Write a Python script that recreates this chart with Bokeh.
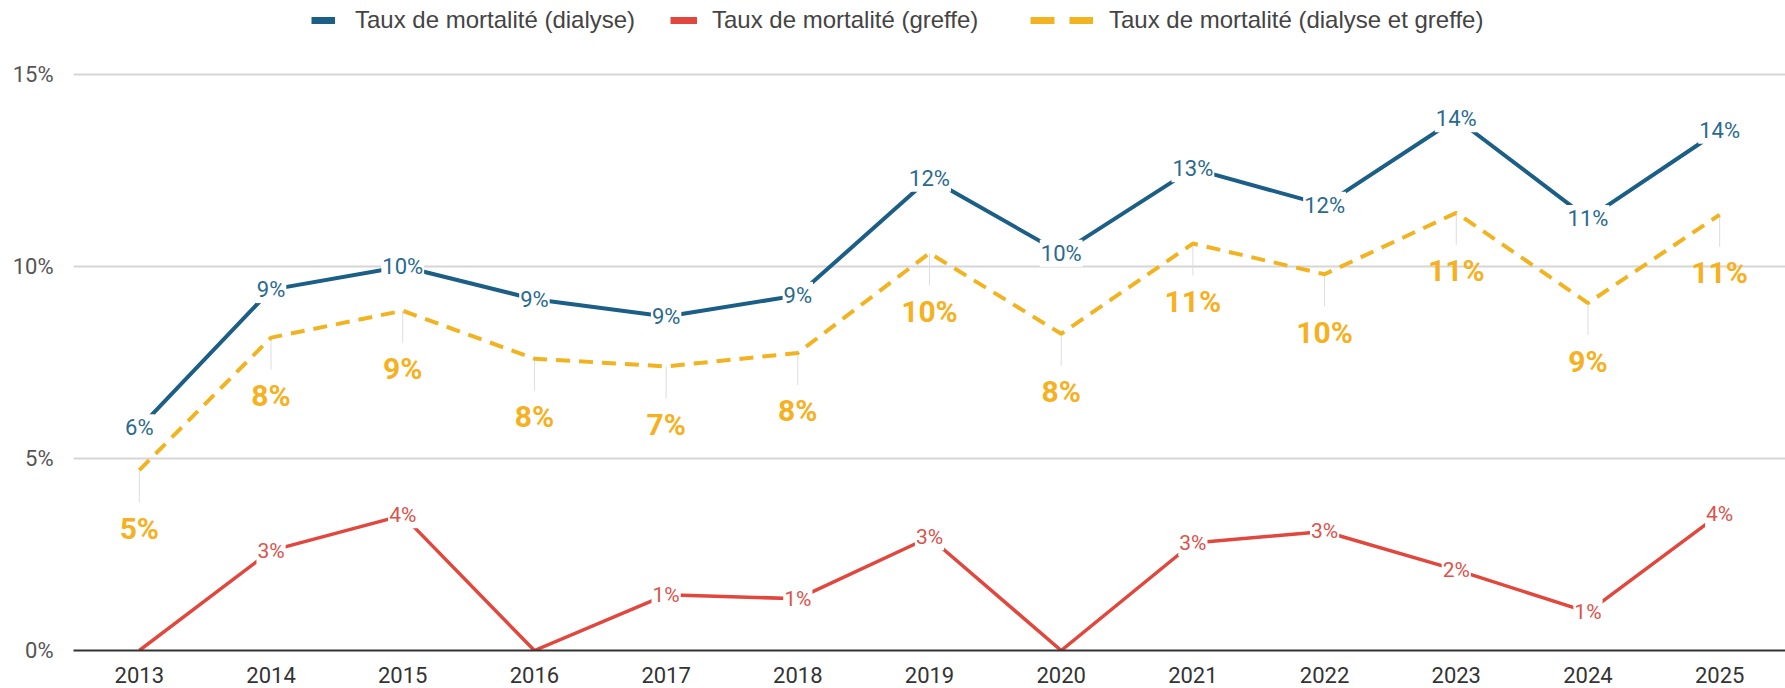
from math import pi
from bokeh.plotting import figure
from bokeh.models import ColumnDataSource, Range1d, FixedTicker, Legend, LegendItem
from bokeh.core.properties import value
from bokeh.embed import file_html
from bokeh.resources import INLINE

# ---- data ----
years = [str(y) for y in range(2013, 2026)]
dialyse = [5.8, 9.4, 10.0, 9.15, 8.7, 9.25, 12.3, 10.35, 12.55, 11.6, 13.85, 11.25, 13.55]
greffe = [0.0, 2.6, 3.52, 0.0, 1.45, 1.35, 2.95, 0.0, 2.8, 3.1, 2.1, 1.0, 3.55]
total = [4.7, 8.15, 8.85, 7.6, 7.4, 7.75, 10.35, 8.25, 10.6, 9.8, 11.4, 9.05, 11.35]
y_ticks = [0, 5, 10, 15]
y_tick_labels = ["0%", "5%", "10%", "15%"]
series_names = ["Taux de mortalité (dialyse)", "Taux de mortalité (greffe)",
                "Taux de mortalité (dialyse et greffe)"]

BLUE = "#1b5e86"
BLUE_TXT = "#2a6a8e"
RED = "#e1473d"
RED_TXT = "#d9534c"
YEL = "#f2b320"
YEL_TXT = "#f5b11f"
FONT = "Roboto"


def pct(v):
    return f"{int(v + 0.5)}%"


src_d = ColumnDataSource(dict(x=years, y=dialyse, t=[pct(v) for v in dialyse]))
src_g_line = ColumnDataSource(dict(x=years, y=greffe))
gx = [x for x, v in zip(years, greffe) if v > 0]
gy = [v for v in greffe if v > 0]
src_g = ColumnDataSource(dict(x=gx, y=gy, t=[pct(v) for v in gy]))
src_t = ColumnDataSource(dict(x=years, y=total, t=[pct(v) for v in total]))

p = figure(x_range=years, y_range=Range1d(0, 16.93), width=1785, height=688,
           output_backend="svg", toolbar_location=None,
           min_border_left=73, min_border_right=0, min_border_top=0, min_border_bottom=38)
p.outline_line_color = None
p.background_fill_color = "white"
p.xgrid.grid_line_color = None
p.ygrid.ticker = FixedTicker(ticks=y_ticks)
p.ygrid.grid_line_color = "#d6d6d6"
p.ygrid.grid_line_width = 2

p.yaxis.ticker = FixedTicker(ticks=y_ticks)
p.yaxis.major_label_overrides = {t: l for t, l in zip(y_ticks, y_tick_labels)}
p.yaxis.axis_line_color = None
p.yaxis.major_tick_line_color = None
p.yaxis.minor_tick_line_color = None
p.yaxis.major_label_standoff = 14
p.yaxis.major_label_text_font = FONT
p.yaxis.major_label_text_font_size = "22px"
p.yaxis.major_label_text_color = "#555555"

p.xaxis.axis_line_color = "#333333"
p.xaxis.axis_line_width = 2
p.xaxis.major_tick_line_color = None
p.xaxis.minor_tick_line_color = None
p.xaxis.major_label_standoff = 10
p.xaxis.major_label_text_font = FONT
p.xaxis.major_label_text_font_size = "22px"
p.xaxis.major_label_text_color = "#333333"

# leader lines for combined series labels
p.ray(x="x", y="y", source=src_t, length=32, length_units="screen", angle=-pi / 2,
      line_color="#dddddd", line_width=1)

r_t = p.line("x", "y", source=src_t, line_color=YEL, line_width=4, line_dash="14 9")
r_d = p.line("x", "y", source=src_d, line_color=BLUE, line_width=4)
r_g = p.line("x", "y", source=src_g_line, line_color=RED, line_width=3.5)

p.text("x", "y", text="t", source=src_d, text_align="center", text_baseline="middle",
       text_font=value(FONT), text_font_size="22px", text_color=BLUE_TXT,
       background_fill_color="white", padding=1)
p.text("x", "y", text="t", source=src_g, text_align="center", text_baseline="middle",
       text_font=value(FONT), text_font_size="21px", text_color=RED_TXT,
       background_fill_color="white", padding=1)
p.text("x", "y", text="t", source=src_t, text_align="center", text_baseline="middle",
       y_offset=58, text_font=value(FONT), text_font_size="30px", text_font_style="bold",
       text_color=YEL_TXT)

# legend swatches: single-point lines (draw nothing in the plot, only in the legend)
lg_d = p.line(x=years[:1], y=dialyse[:1], line_color=BLUE, line_width=7)
lg_g = p.line(x=years[:1], y=greffe[:1], line_color=RED, line_width=7)
lg_t = p.line(x=years[:1], y=total[:1], line_color=YEL, line_width=7, line_dash="24 15")


def mk_legend(label, renderer, x, gw, standoff):
    lg = Legend(items=[LegendItem(label=label, renderers=[renderer])],
                location=(x, 616), orientation="horizontal",
                glyph_width=gw, glyph_height=26, label_height=26, label_standoff=standoff,
                padding=0, margin=0, spacing=0,
                border_line_alpha=0, background_fill_alpha=0,
                label_text_font="Liberation Sans", label_text_font_size="24px",
                label_text_color="#444444")
    p.add_layout(lg)


mk_legend(series_names[0], lg_d, 238, 24, 20)
mk_legend(series_names[1], lg_g, 597, 27, 15)
mk_legend(series_names[2], lg_t, 957, 63, 16)

open("out.html", "w").write(file_html(p, INLINE))
